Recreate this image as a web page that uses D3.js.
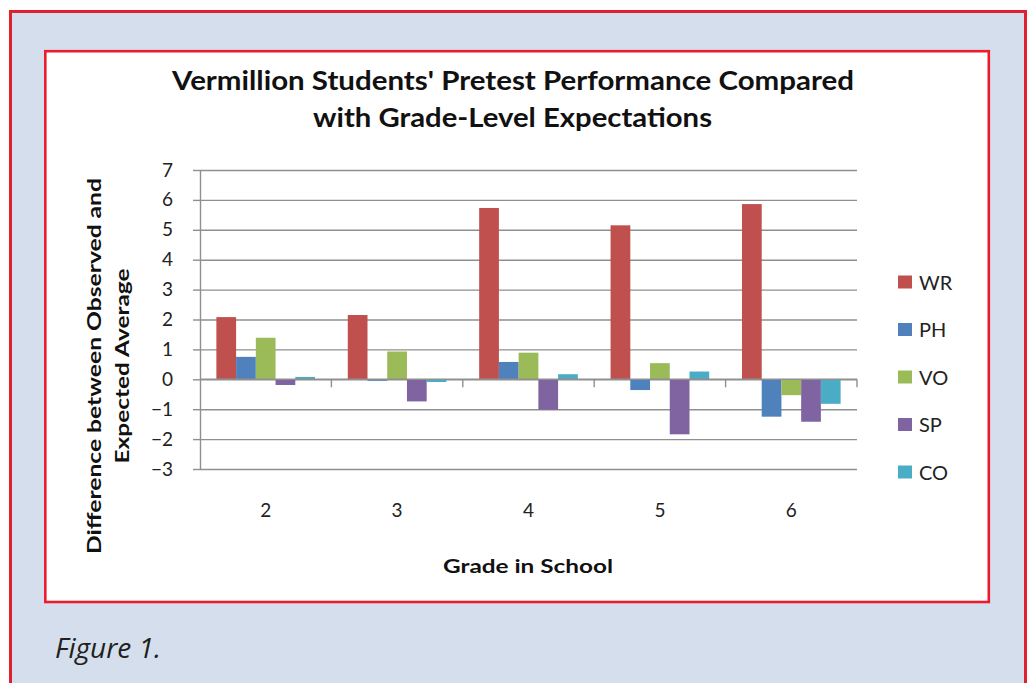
<!DOCTYPE html>
<html lang="en">
<head>
    <meta charset="UTF-8">
    <title>Vermillion Students' Pretest Performance</title>
    <style>
        body { margin: 0; background: #ffffff; }
        .axis text { font-family: Lato, sans-serif; font-size: 19px; fill: #222; }
        .grid line { stroke: #8f8f8f; stroke-width: 1.4; }
        .grid path { display: none; }
    </style>
</head>
<body>
    <script src="https://d3js.org/d3.v7.min.js"></script>
    <script>
        const width = 1029;
        const height = 683;

        // data
        const grades = ['2', '3', '4', '5', '6'];
        const series = ['WR', 'PH', 'VO', 'SP', 'CO'];
        const WR = [2.08, 2.15, 5.73, 5.15, 5.86];
        const PH = [0.75, -0.05, 0.58, -0.36, -1.25];
        const VO = [1.39, 0.93, 0.89, 0.54, -0.53];
        const SP = [-0.19, -0.74, -1.02, -1.84, -1.42];
        const CO = [0.08, -0.09, 0.17, 0.26, -0.82];
        const yTicks = [-3, -2, -1, 0, 1, 2, 3, 4, 5, 6, 7];
        const colors = ['#c0504d', '#4f81bd', '#9bbb59', '#8064a2', '#4bacc6'];

        const values = { WR: WR, PH: PH, VO: VO, SP: SP, CO: CO };
        const rows = [];
        grades.forEach(function (g, i) {
            series.forEach(function (s) {
                rows.push({ grade: g, key: s, value: values[s][i] });
            });
        });

        // plot area
        const plot = { left: 200, right: 857, top: 170, bottom: 469 };

        const svg = d3.select('body').append('svg')
            .attr('width', width).attr('height', height);

        // outer light blue panel
        svg.append('rect')
            .attr('x', 10.5).attr('y', 11.5)
            .attr('width', 1015).attr('height', 700)
            .attr('fill', '#d4deec')
            .attr('stroke', '#e0202e').attr('stroke-width', 3);

        // chart box
        svg.append('rect')
            .attr('x', 45.3).attr('y', 51.2)
            .attr('width', 943.5).attr('height', 550.8)
            .attr('fill', '#ffffff')
            .attr('stroke', '#ec1c2c').attr('stroke-width', 2.6);

        const yScale = d3.scaleLinear()
            .domain([-3, 7])
            .range([plot.bottom, plot.top]);

        const x0 = d3.scaleBand()
            .domain(grades)
            .range([plot.left, plot.right])
            .padding(0);

        const x1 = d3.scaleBand()
            .domain(series)
            .range([0, x0.bandwidth()])
            .paddingInner(0)
            .paddingOuter(0.83);

        const color = d3.scaleOrdinal().domain(series).range(colors);

        // gridlines
        svg.append('g')
            .attr('class', 'grid')
            .attr('transform', 'translate(' + plot.left + ',0)')
            .call(d3.axisLeft(yScale).tickValues(yTicks).tickSize(-(plot.right - plot.left)).tickFormat(''));

        // y axis
        const yAxis = svg.append('g')
            .attr('class', 'axis')
            .attr('transform', 'translate(' + plot.left + ',0)')
            .call(d3.axisLeft(yScale).tickValues(yTicks).tickSize(7).tickSizeOuter(0).tickPadding(20));
        yAxis.select('.domain').attr('stroke', '#8f8f8f').attr('stroke-width', 1.4);
        yAxis.selectAll('line').attr('stroke', '#8f8f8f').attr('stroke-width', 1.4);

        // bars
        svg.append('g')
            .selectAll('rect')
            .data(rows)
            .enter()
            .append('rect')
            .attr('x', function (d) { return x0(d.grade) + x1(d.key); })
            .attr('y', function (d) { return yScale(Math.max(0, d.value)); })
            .attr('width', x1.bandwidth())
            .attr('height', function (d) { return Math.abs(yScale(d.value) - yScale(0)); })
            .attr('fill', function (d) { return color(d.key); });

        // category axis line at zero, ticks on the group boundaries
        const zeroY = yScale(0);
        svg.append('line')
            .attr('x1', plot.left).attr('x2', plot.right)
            .attr('y1', zeroY).attr('y2', zeroY)
            .attr('stroke', '#8f8f8f').attr('stroke-width', 1.4);
        const bounds = grades.map(function (g) { return x0(g); }).concat([plot.right]);
        svg.append('g')
            .selectAll('line')
            .data(bounds.slice(1))
            .enter()
            .append('line')
            .attr('x1', function (d) { return d; }).attr('x2', function (d) { return d; })
            .attr('y1', zeroY).attr('y2', zeroY + 8)
            .attr('stroke', '#8f8f8f').attr('stroke-width', 1.4);

        // category labels
        const xAxis = svg.append('g')
            .attr('class', 'axis')
            .attr('transform', 'translate(0,' + plot.bottom + ')')
            .call(d3.axisBottom(x0).tickSize(0).tickPadding(35));
        xAxis.select('.domain').remove();

        // title
        const title = svg.append('g')
            .attr('font-family', 'Lato, sans-serif')
            .attr('font-weight', 'bold')
            .attr('font-size', 27)
            .attr('fill', '#111');
        title.append('text')
            .attr('x', 172).attr('y', 90)
            .attr('textLength', 682).attr('lengthAdjust', 'spacingAndGlyphs')
            .text("Vermillion Students' Pretest Performance Compared");
        title.append('text')
            .attr('x', 313).attr('y', 127)
            .attr('textLength', 399).attr('lengthAdjust', 'spacingAndGlyphs')
            .text('with Grade-Level Expectations');

        // axis titles
        svg.append('text')
            .attr('x', 443).attr('y', 573)
            .attr('font-family', 'Lato, sans-serif')
            .attr('font-weight', 'bold').attr('font-size', 19.5).attr('fill', '#111')
            .attr('textLength', 170).attr('lengthAdjust', 'spacingAndGlyphs')
            .text('Grade in School');

        const yTitle = svg.append('g')
            .attr('font-family', 'Lato, sans-serif')
            .attr('font-weight', 'bold').attr('font-size', 19.5).attr('fill', '#111')
            .attr('text-anchor', 'middle');
        yTitle.append('text')
            .attr('transform', 'translate(101,366) rotate(-90)')
            .attr('textLength', 376).attr('lengthAdjust', 'spacingAndGlyphs')
            .text('Difference between Observed and');
        yTitle.append('text')
            .attr('transform', 'translate(129,366) rotate(-90)')
            .attr('textLength', 195).attr('lengthAdjust', 'spacingAndGlyphs')
            .text('Expected Average');

        // legend
        const legend = svg.append('g')
            .selectAll('g')
            .data(series)
            .enter()
            .append('g')
            .attr('transform', function (d, i) { return 'translate(898,' + (282 + i * 47.5) + ')'; });
        legend.append('rect')
            .attr('x', 0).attr('y', -6.5)
            .attr('width', 14).attr('height', 13)
            .attr('fill', function (d) { return color(d); });
        legend.append('text')
            .attr('x', 21).attr('y', 7.5)
            .attr('font-family', 'Lato, sans-serif')
            .attr('font-size', 20).attr('fill', '#222')
            .text(function (d) { return d; });

        // caption
        svg.append('text')
            .attr('x', 55).attr('y', 658)
            .attr('font-family', '"Open Sans", sans-serif')
            .attr('font-style', 'italic').attr('font-size', 27).attr('fill', '#231f20')
            .attr('textLength', 106).attr('lengthAdjust', 'spacingAndGlyphs')
            .text('Figure 1.');
    </script>
</body>
</html>
